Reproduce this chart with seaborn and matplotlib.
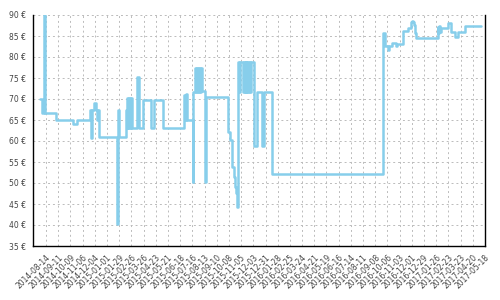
import matplotlib
matplotlib.use("Agg")
import matplotlib.pyplot as plt
import matplotlib.dates as mdates
import seaborn as sns
import pandas as pd

dates = [
    "2014-07-31", "2014-08-05", "2014-08-09", "2014-08-11", "2014-09-06",
    "2014-10-15", "2014-10-24", "2014-11-23", "2014-11-25", "2014-11-27",
    "2014-12-01", "2014-12-07", "2014-12-09", "2014-12-11", "2014-12-13",
    "2015-01-24", "2015-01-26", "2015-01-28", "2015-02-13", "2015-02-15",
    "2015-02-17", "2015-02-19", "2015-02-21", "2015-02-23", "2015-02-25",
    "2015-02-27", "2015-03-11", "2015-03-15", "2015-03-25", "2015-04-12",
    "2015-04-19", "2015-05-10", "2015-06-27", "2015-06-29", "2015-07-01",
    "2015-07-03", "2015-07-17", "2015-07-18", "2015-07-22", "2015-07-25",
    "2015-07-27", "2015-07-29", "2015-07-31", "2015-08-02", "2015-08-04",
    "2015-08-06", "2015-08-14", "2015-08-16", "2015-10-06", "2015-10-10",
    "2015-10-14", "2015-10-16", "2015-10-19", "2015-10-21", "2015-10-24",
    "2015-10-26", "2015-10-28", "2015-10-31", "2015-11-02", "2015-11-09",
    "2015-11-11", "2015-11-13", "2015-11-15", "2015-11-17", "2015-11-19",
    "2015-11-21", "2015-11-23", "2015-11-25", "2015-11-27", "2015-12-04",
    "2015-12-11", "2015-12-23", "2015-12-27", "2016-01-15", "2016-09-26",
    "2016-09-30", "2016-10-07", "2016-10-09", "2016-10-16", "2016-10-26",
    "2016-10-28", "2016-11-10", "2016-11-23", "2016-11-30", "2016-12-02",
    "2016-12-04", "2016-12-07", "2016-12-09", "2016-12-11", "2017-01-29",
    "2017-01-31", "2017-02-02", "2017-02-04", "2017-02-07", "2017-02-21",
    "2017-03-02", "2017-03-11", "2017-03-18", "2017-04-01", "2017-05-08",
]
prices = [
    70.0, 66.7, 90.0, 66.7, 65.0,
    64.0, 65.0, 67.5, 60.7, 67.5,
    69.0, 67.5, 65.0, 67.5, 61.0,
    40.3, 67.5, 61.0, 67.5, 63.0,
    70.2, 63.0, 70.2, 63.0, 70.2,
    63.0, 75.2, 63.0, 69.8, 63.0,
    69.8, 63.0, 71.0, 65.0, 71.2,
    65.0, 50.2, 71.7, 77.4, 71.7,
    77.4, 71.7, 77.4, 71.7, 77.4,
    72.0, 50.2, 70.5, 62.2, 60.2,
    56.7, 53.8, 51.4, 49.0, 47.6,
    44.3, 78.8, 71.7, 78.8, 71.7,
    78.8, 71.7, 78.8, 71.7, 78.8,
    71.7, 78.8, 71.7, 78.8, 58.8,
    71.7, 58.8, 71.7, 52.1, 85.6,
    82.7, 81.7, 82.7, 83.3, 82.7,
    83.1, 86.2, 86.8, 88.3, 88.6,
    88.3, 87.6, 85.7, 84.6, 87.2,
    85.8, 87.3, 86.0, 87.0, 88.0,
    86.0, 84.8, 85.9, 87.4, 87.4,
]
tick_start = "2014-08-14"
tick_end = "2017-05-18"
xlim_left = "2014-07-15"
y_ticks = [35, 40, 45, 50, 55, 60, 65, 70, 75, 80, 85, 90]

df = pd.DataFrame({"date": pd.to_datetime(dates), "price": prices})

sns.set_style("white")
plt.rcParams["font.family"] = ["DejaVu Sans"]

fig = plt.figure(figsize=(5, 3), dpi=100)
ax = fig.add_axes([0.066, 0.18, 0.904, 0.77])

sns.lineplot(data=df, x="date", y="price", ax=ax, estimator=None,
             drawstyle="steps-post", color="#87CEEB", linewidth=1.8, zorder=3)

xt = pd.date_range(tick_start, tick_end, freq="28D")
ax.set_xticks(xt)
ax.set_xticklabels([d.strftime("%Y-%m-%d") for d in xt], rotation=45,
                   ha="right", rotation_mode="anchor", fontsize=5.5, color="#444444")
ax.set_xlim(pd.Timestamp(xlim_left), pd.Timestamp(tick_end))
ax.set_ylim(35, 90)
ax.set_yticks(y_ticks)
ax.set_yticklabels([f"{v} €" for v in y_ticks], fontsize=5.5, color="#444444")

ax.grid(True, color="#bbbbbb", linestyle=(0, (2, 3)), linewidth=0.7, zorder=0)
ax.tick_params(axis="both", direction="inout", length=6, width=0.8, color="black", pad=2)
ax.set_xlabel("")
ax.set_ylabel("")
ax.spines["top"].set_visible(False)
for s in ["left", "right", "bottom"]:
    ax.spines[s].set_color("black")
    ax.spines[s].set_linewidth(1.0)

fig.savefig("out.png", dpi=100)
